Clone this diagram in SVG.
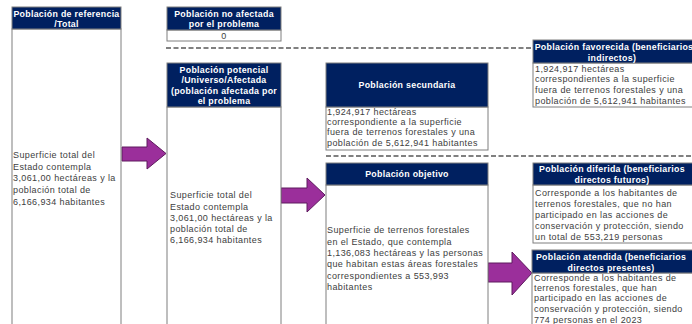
<svg xmlns="http://www.w3.org/2000/svg" width="692" height="324" viewBox="0 0 692 324">
<style>
.hd{fill:#002060;stroke:#7f7f7f;stroke-width:1}
.bd{fill:#ffffff;stroke:#7f7f7f;stroke-width:1}
.ht{font-family:"Liberation Sans",Arial,sans-serif;font-size:8.8px;font-weight:bold;fill:#ffffff;text-anchor:middle;letter-spacing:0.3px}
.bt{font-family:"Liberation Sans",Arial,sans-serif;font-size:9px;fill:#404040;letter-spacing:0.4px}
.dash{stroke:#808080;stroke-width:2;stroke-dasharray:5,2.5;fill:none}
.arr{fill:#9b2f9b;stroke:#5e1a5e;stroke-width:1}
</style>
<rect width="692" height="324" fill="#ffffff"/>
<g id="connectors">
<line class="dash" x1="166" y1="48" x2="533" y2="48"/>
<line class="dash" x1="326" y1="156" x2="692" y2="156"/>
<polygon class="arr" points="122,147 147,147 147,138 166,153.5 147,169 147,161 122,161"/>
<polygon class="arr" points="281,188 307,188 307,178 325,195 307,212 307,203 281,203"/>
<polygon class="arr" points="488,263 512,263 512,252 532,273 512,295 512,282 488,282"/>
</g>
<g id="referencia">
<rect class="bd" x="12" y="29" width="109" height="300"/>
<rect class="hd" x="12" y="7" width="109" height="22"/>
<text class="ht" x="66.5" y="17">Población de referencia</text>
<text class="ht" x="66.5" y="27">/Total</text>
<text class="bt" x="13"><tspan x="13" y="158">Superficie total del</tspan><tspan x="13" y="170">Estado contempla</tspan><tspan x="13" y="181">3,061,00 hectáreas y la</tspan><tspan x="13" y="193">población total de</tspan><tspan x="13" y="205">6,166,934 habitantes</tspan></text>
</g>
<g id="no-afectada">
<rect class="bd" x="167" y="30" width="114" height="11"/>
<rect class="hd" x="167" y="7" width="114" height="23"/>
<text class="ht" x="224" y="17">Población no afectada</text>
<text class="ht" x="224" y="27">por el problema</text>
<text class="bt" x="224" y="39" text-anchor="middle" font-size="7.5px">0</text>
</g>
<g id="potencial">
<rect class="bd" x="167" y="107" width="114" height="222"/>
<rect class="hd" x="167" y="63" width="114" height="44"/>
<text class="ht" x="224" y="73">Población potencial</text>
<text class="ht" x="224" y="83">/Universo/Afectada</text>
<text class="ht" x="224" y="94">(población afectada por</text>
<text class="ht" x="224" y="104">el problema</text>
<text class="bt"><tspan x="170" y="198">Superficie total del</tspan><tspan x="170" y="210">Estado contempla</tspan><tspan x="170" y="221">3,061,00 hectáreas y la</tspan><tspan x="170" y="232">población total de</tspan><tspan x="170" y="243">6,166,934 habitantes</tspan></text>
</g>
<g id="secundaria">
<rect class="bd" x="326" y="107" width="162" height="43"/>
<rect class="hd" x="326" y="63" width="162" height="44"/>
<text class="ht" x="407" y="88">Población secundaria</text>
<text class="bt"><tspan x="327" y="115">1,924,917 hectáreas</tspan><tspan x="327" y="125">correspondiente a la superficie</tspan><tspan x="327" y="135">fuera de terrenos forestales y una</tspan><tspan x="327" y="146">población de 5,612,941 habitantes</tspan></text>
</g>
<g id="objetivo">
<rect class="bd" x="326" y="185" width="162" height="144"/>
<rect class="hd" x="326" y="163" width="162" height="22"/>
<text class="ht" x="407" y="177">Población objetivo</text>
<text class="bt"><tspan x="327" y="233">Superficie de terrenos forestales</tspan><tspan x="327" y="245">en el Estado, que contempla</tspan><tspan x="327" y="256">1,136,083 hectáreas y las personas</tspan><tspan x="327" y="267">que habitan estas áreas forestales</tspan><tspan x="327" y="279">correspondientes a 553,993</tspan><tspan x="327" y="290">habitantes</tspan></text>
</g>
<g id="favorecida">
<rect class="bd" x="533" y="63" width="170" height="44"/>
<rect class="hd" x="533" y="40" width="170" height="23"/>
<text class="ht" x="614" y="50">Población favorecida (beneficiarios</text>
<text class="ht" x="612" y="61">indirectos)</text>
<text class="bt"><tspan x="535" y="72">1,924,917  hectáreas</tspan><tspan x="535" y="82">correspondientes a la superficie</tspan><tspan x="535" y="93">fuera de terrenos forestales y una</tspan><tspan x="535" y="104">población de 5,612,941 habitantes</tspan></text>
</g>
<g id="diferida">
<rect class="bd" x="533" y="185" width="170" height="58"/>
<rect class="hd" x="533" y="163" width="170" height="22"/>
<text class="ht" x="612" y="172">Población diferida (beneficiarios</text>
<text class="ht" x="612" y="183">directos futuros)</text>
<text class="bt"><tspan x="535" y="196">Corresponde a los habitantes de</tspan><tspan x="535" y="207">terrenos forestales, que no han</tspan><tspan x="535" y="218">participado en las acciones de</tspan><tspan x="535" y="229">conservación y protección, siendo</tspan><tspan x="535" y="240">un total de 553,219 personas</tspan></text>
</g>
<g id="atendida">
<rect class="bd" x="532" y="273" width="170" height="60"/>
<rect class="hd" x="532" y="250" width="170" height="23"/>
<text class="ht" x="611" y="260">Población atendida (beneficiarios</text>
<text class="ht" x="611" y="271">directos presentes)</text>
<text class="bt"><tspan x="534" y="281">Corresponde a los habitantes  de</tspan><tspan x="534" y="291">terrenos forestales, que han</tspan><tspan x="534" y="301">participado en las acciones de</tspan><tspan x="534" y="312">conservación y protección, siendo</tspan><tspan x="534" y="323">774 personas en el 2023</tspan></text>
</g>
</svg>
